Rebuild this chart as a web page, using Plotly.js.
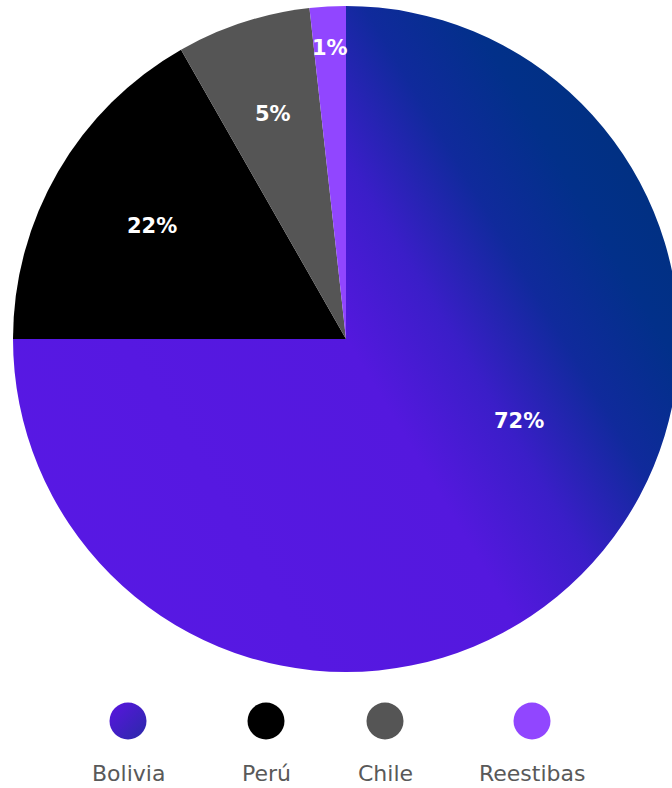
<!DOCTYPE html>
<html>
<head>
<meta charset="utf-8">
<script src="https://cdn.plot.ly/plotly-3.0.1.min.js"></script>
<style>
  html, body { margin: 0; padding: 0; background: #ffffff; overflow: hidden; }
  #chart { width: 690px; height: 788px; }
</style>
</head>
<body>
<div id="chart"></div>
<script>
// ---- data ----
const labels  = ['Bolivia', 'Perú', 'Chile', 'Reestibas'];
// slice sizes as drawn (share of the full circle)
const values  = [75, 16.75, 6.5, 1.75];
// percentage labels printed on the slices
const pctText = ['72%', '22%', '5%', '1%'];
const colors  = ['#4f17dc', '#000000', '#555555', '#9146ff'];

// ---- layout constants ----
const W = 690, H = 788;
const cx = 346, cy = 339, R = 333;
const legendX = [128, 266, 385, 532];
const legendDotY = 721, legendTextY = 773, dotD = 37;
// label placement: radial fraction and angular shift (deg) from slice middle
const labelR     = [0.575, 0.673, 0.71, 0.876];
const labelShift = [-19.8, 0, 0, 0];

const trace = {
  type: 'pie',
  labels: labels,
  values: values,
  textinfo: 'none',
  sort: false,
  direction: 'clockwise',
  rotation: 0,
  marker: { colors: colors, line: { width: 0 } },
  hoverinfo: 'none',
  domain: {
    x: [(cx - R) / W, (cx + R) / W],
    y: [1 - (cy + R) / H, 1 - (cy - R) / H]
  }
};

const shapes = labels.map((l, i) => ({
  type: 'circle',
  xref: 'paper', yref: 'paper',
  xsizemode: 'pixel', ysizemode: 'pixel',
  xanchor: legendX[i] / W, yanchor: 1 - legendDotY / H,
  x0: -dotD / 2, x1: dotD / 2, y0: -dotD / 2, y1: dotD / 2,
  fillcolor: colors[i],
  line: { width: 0 }
}));

const total = values.reduce((a, b) => a + b, 0);
let cum = 0;
const sliceLabels = values.map((v, i) => {
  const mid = (cum + v / 2) / total * 360 + labelShift[i];
  cum += v;
  const a = mid * Math.PI / 180;
  const px = cx + labelR[i] * R * Math.sin(a);
  const py = cy - labelR[i] * R * Math.cos(a);
  return {
    text: pctText[i],
    xref: 'paper', yref: 'paper',
    x: px / W, y: 1 - py / H,
    xanchor: 'center', yanchor: 'middle',
    showarrow: false,
    font: { family: 'DejaVu Sans, sans-serif', size: 21, color: '#ffffff', weight: 700 }
  };
});

const legendLabels = labels.map((l, i) => ({
  text: l,
  xref: 'paper', yref: 'paper',
  x: legendX[i] / W, y: 1 - legendTextY / H,
  xanchor: 'center', yanchor: 'middle',
  showarrow: false,
  font: { family: 'DejaVu Sans, sans-serif', size: 22, color: '#595959' }
}));

const layout = {
  width: W, height: H,
  margin: { l: 0, r: 0, t: 0, b: 0 },
  paper_bgcolor: '#ffffff',
  showlegend: false,
  shapes: shapes,
  annotations: sliceLabels.concat(legendLabels)
};

Plotly.newPlot('chart', [trace], layout, { displayModeBar: false, staticPlot: true }).then(gd => {
  const svg = gd.querySelector('.main-svg');
  const NS = 'http://www.w3.org/2000/svg';
  const defs = document.createElementNS(NS, 'defs');
  function grad(id, x1, y1, x2, y2, stops) {
    const g = document.createElementNS(NS, 'linearGradient');
    g.setAttribute('id', id);
    g.setAttribute('x1', x1); g.setAttribute('y1', y1);
    g.setAttribute('x2', x2); g.setAttribute('y2', y2);
    stops.forEach(s => {
      const st = document.createElementNS(NS, 'stop');
      st.setAttribute('offset', s[0]);
      st.setAttribute('stop-color', s[1]);
      g.appendChild(st);
    });
    defs.appendChild(g);
  }
  grad('bolGrad', '0', '0.8', '1', '0.2', [
    [0, '#5818e4'], [0.5, '#5418de'], [0.62, '#3a1ec8'], [0.74, '#102a9c'], [0.85, '#02308a'], [1, '#00307c']
  ]);
  grad('bolDot', '0', '0', '1', '1', [
    [0, '#5a14e0'], [1, '#2a2aa8']
  ]);
  svg.insertBefore(defs, svg.firstChild);
  const slice = gd.querySelectorAll('g.slice path.surface')[0];
  if (slice) slice.style.fill = 'url(#bolGrad)';
  const dot = gd.querySelectorAll('.shapelayer path')[0];
  if (dot) dot.style.fill = 'url(#bolDot)';
});
</script>
</body>
</html>
